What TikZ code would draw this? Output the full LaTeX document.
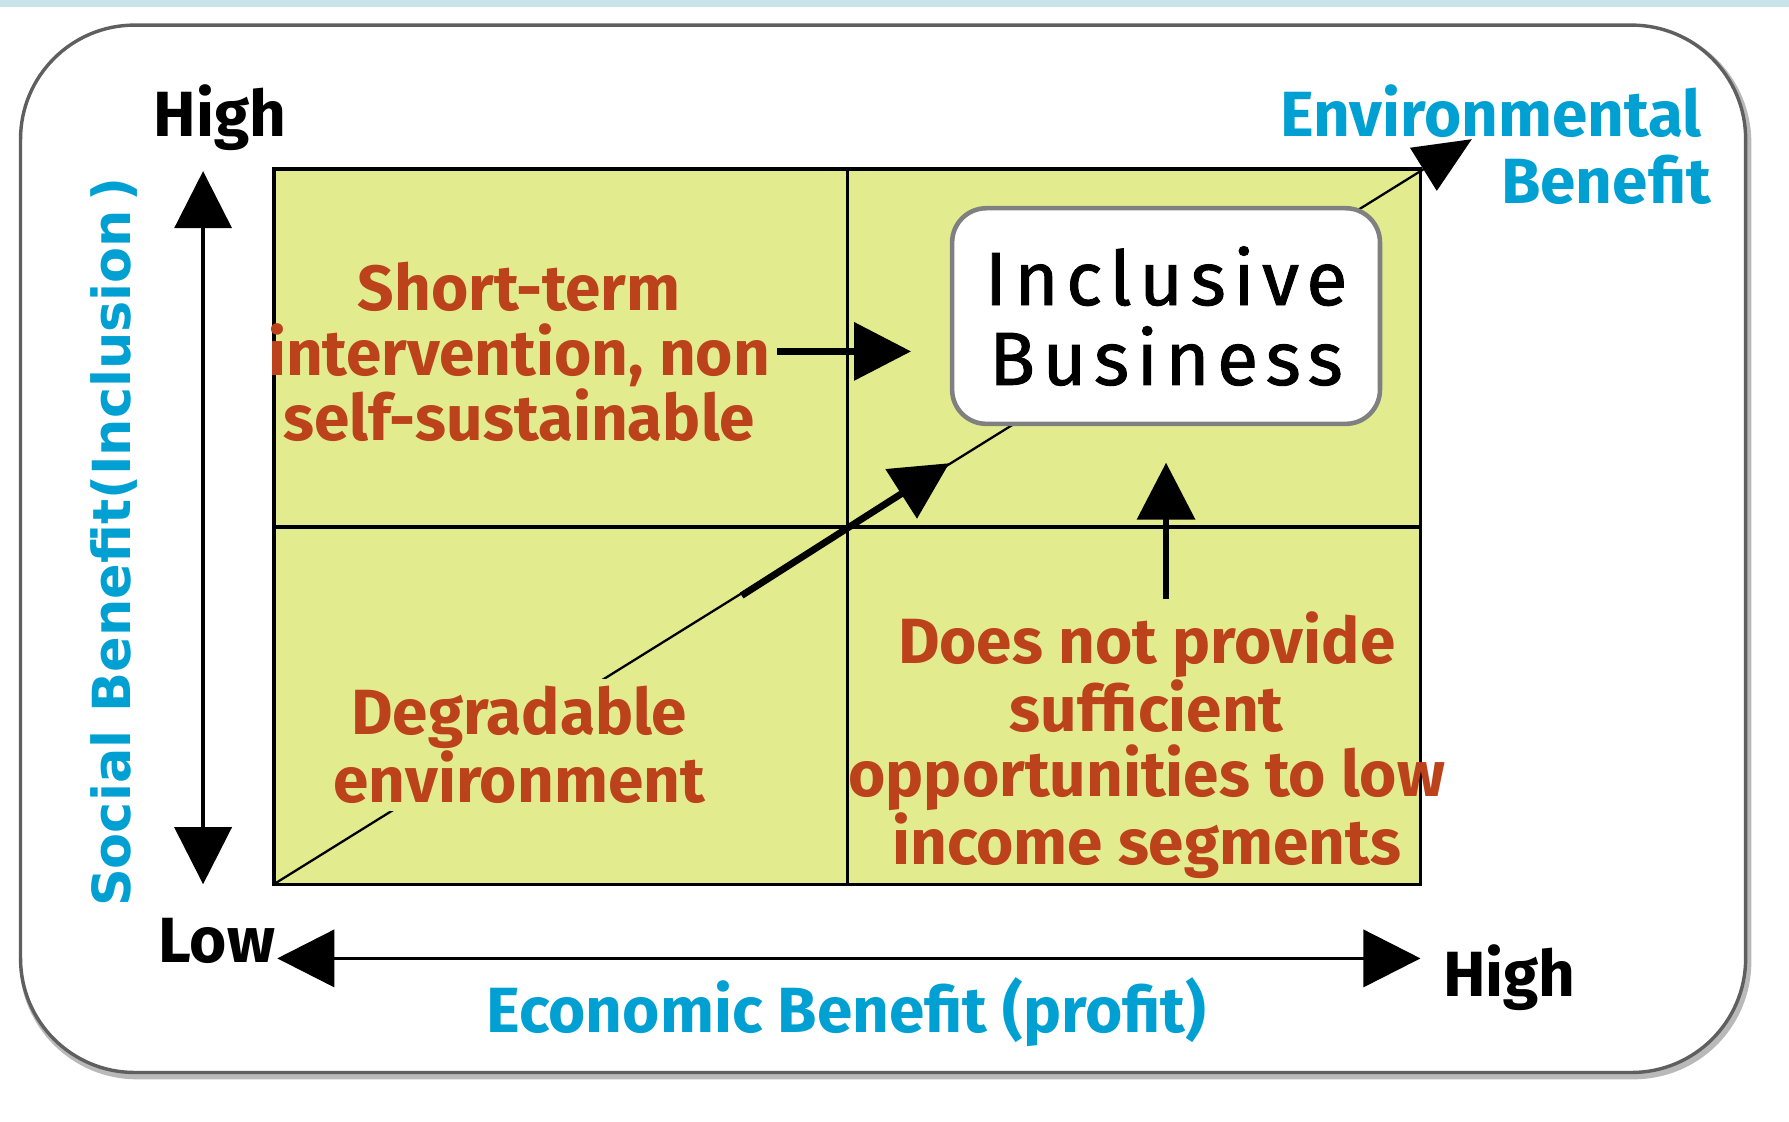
\documentclass[tikz,border=0pt]{standalone}
\usepackage{fontspec}
\setmainfont{Fira Sans}
\newfontfamily\sidefont{DejaVu Sans}
\newfontfamily\ibfont[LetterSpace=10, FakeBold=1.2]{Fira Sans}
\usepackage{tikz}
\usetikzlibrary{arrows.meta}
\definecolor{gridfill}{RGB}{227, 235, 143}
\definecolor{rust}{RGB}{187, 66, 26}
\definecolor{sky}{RGB}{0, 160, 210}
\definecolor{band}{RGB}{200, 228, 232}
\definecolor{rim}{RGB}{95, 95, 95}

\begin{document}
\begin{tikzpicture}[scale=0.5,
  lbl/.style={font=\fontsize{28}{28.5}\selectfont\bfseries, text=rust, align=center, inner sep=3pt},
  ends/.style={font=\fontsize{28}{30}\selectfont\bfseries, text=black, inner sep=0pt},
  axisname/.style={font=\fontsize{28}{30}\selectfont\bfseries, text=sky, inner sep=0pt},
  bigarrow/.style={line width=3pt, -{Triangle[length=25pt, width=25pt]}},
  axisarrow/.style={line width=1.5pt, {Triangle[length=25pt, width=25pt]}-{Triangle[length=25pt, width=25pt]}}]
\useasboundingbox (0pt, 0pt) rectangle (1568pt, -983pt);
\fill [band] (0pt, 0pt) rectangle (1568pt, -6pt);
% outer frame
\draw [gray!55, line width=3pt, rounded corners=50pt] (20pt, -25pt) rectangle (1532pt, -943pt);
\draw [rim, line width=1.5pt, rounded corners=50pt, fill=white] (18pt, -22pt) rectangle (1530pt, -940pt);
% grid
\coordinate (sw) at (240pt, -775pt);
\coordinate (ne) at (1245pt, -148pt);
\coordinate (mid) at (743pt, -462pt);
\coordinate (envtip) at (1290pt, -122pt);
\coordinate (dstart) at (650pt, -522pt);
\coordinate (dtip) at (832pt, -406pt);
\fill [gridfill] (sw) rectangle (ne);
\draw [line width=1pt, -{Triangle[length=25pt, width=22pt]}] (sw) -- (envtip);
\node (deg) [lbl, fill=gridfill] at (455pt, -653pt) {Degradable\\environment};
\draw [line width=1.5pt] (sw) rectangle (ne);
\draw [line width=1.5pt] (sw |- mid) -- (ne |- mid);
\draw [line width=1.5pt] (mid |- ne) -- (mid |- sw);
% quadrant texts
\node (st) [lbl] at (455pt, -308pt) {Short-term\\intervention, non\\self-sustainable};
\node (dnp) [lbl] at (1005pt, -653pt) {Does not provide\\sufficient\\opportunities to low\\income segments};
\node (ib) [draw=gray, line width=2pt, fill=white, rounded corners=15pt, minimum width=187.5pt, minimum height=94.5pt, align=center, font=\ibfont\fontsize{33}{35}\selectfont] at (1022pt, -277pt) {Inclusive\\Business};
\draw [bigarrow, shorten >=17pt] (st.east) -- (st.east -| ib.west);
\draw [bigarrow, shorten >=16pt] ([yshift=4pt]dnp.north -| ib.south) -- (ib.south);
\draw [bigarrow] (dstart) -- (dtip);
% axes
\coordinate (ytop) at (178pt, -150pt);
\coordinate (ybot) at (178pt, -775pt);
\coordinate (xlo) at (243pt, -840pt);
\coordinate (xhi) at (1245pt, -840pt);
\draw [axisarrow] (ybot) -- (ytop);
\draw [axisarrow] (xlo) -- (xhi);
\node (yhigh) [ends] at (193pt, -103pt) {High};
\node (low) [ends] at (190pt, -825pt) {Low};
\node (xhigh) [ends] at (1323pt, -857pt) {High};
\node (econ) [axisname] at (742pt, -887pt) {Economic Benefit (profit)};
\node (env) [axisname, anchor=east] at (1492pt, -97pt) {Environmental};
\node (envb) [axisname, anchor=east] at (1500pt, -158pt) {Benefit};
\node (social) [text=sky, rotate=90, inner sep=0pt, font=\sidefont\fontsize{23}{25}\selectfont\bfseries] at (100pt, -475pt) {Social Benefit(Inclusion\,)};
\end{tikzpicture}
\end{document}
